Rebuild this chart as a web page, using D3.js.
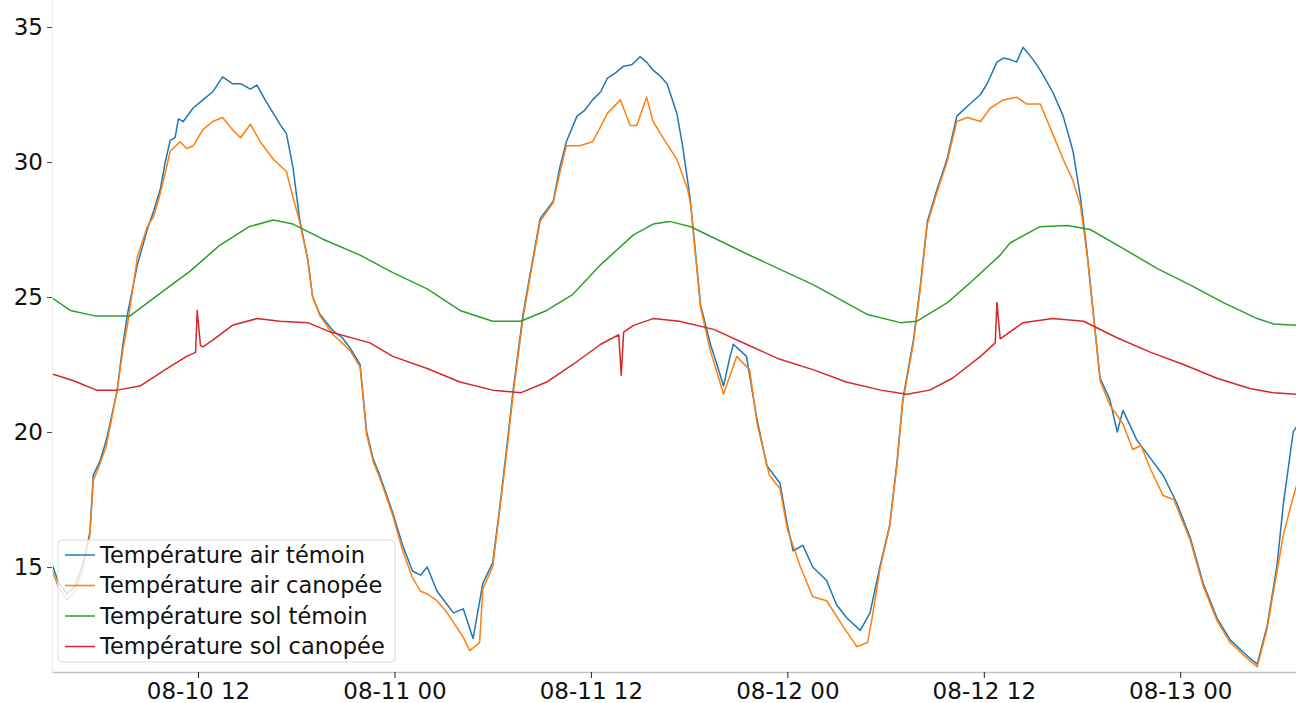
<!DOCTYPE html>
<meta charset="utf-8">
<style>
    body { margin: 0; background: #fff; }
    text { font-family: "DejaVu Sans", sans-serif; fill: #111; }
    .tick text { font-size: 23px; }
    .legend text { font-size: 22.5px; }
    .serie { fill: none; stroke-width: 1.5px; stroke-linejoin: round; }
</style>
<body>
<script src="https://d3js.org/d3.v7.min.js"></script>
<script>
    // hours since 2021-08-10 00:00
    var dayStart = new Date(2021, 7, 10, 0, 0);
    var xFrom = 3.08, xTo = 79.07;

    var airTemoin = [[3.08,15.1],[3.5,14.4],[4.0,14.0],[4.5,14.3],[5.0,15.2],[5.4,16.3],[5.6,18.4],[6.0,18.9],[6.4,19.7],[7.05,21.5],[7.4,23.2],[7.7,24.4],[8.3,26.2],[8.9,27.5],[9.3,28.2],[9.7,29.0],[10.0,30.0],[10.3,30.8],[10.6,30.9],[10.8,31.6],[11.1,31.5],[11.7,32.0],[12.3,32.3],[12.9,32.6],[13.5,33.15],[14.1,32.9],[14.6,32.9],[15.2,32.7],[15.6,32.85],[16.1,32.3],[16.6,31.8],[17.0,31.4],[17.4,31.05],[17.8,29.8],[18.2,27.9],[18.7,26.4],[19.0,25.0],[19.45,24.35],[20.25,23.75],[20.8,23.5],[21.3,23.1],[21.9,22.5],[22.3,20.0],[22.7,19.0],[23.1,18.4],[23.9,17.0],[24.5,15.8],[25.1,14.85],[25.6,14.7],[26.0,15.0],[26.6,14.1],[27.1,13.7],[27.6,13.3],[28.2,13.45],[28.8,12.35],[29.4,14.4],[30.0,15.15],[30.45,17.3],[30.9,19.65],[31.25,21.55],[31.85,24.35],[32.3,25.9],[32.9,27.9],[33.7,28.55],[34.1,29.8],[34.5,30.75],[35.15,31.7],[35.6,31.9],[36.1,32.3],[36.6,32.6],[37.0,33.1],[37.5,33.3],[38.0,33.55],[38.5,33.6],[39.0,33.9],[39.4,33.7],[39.8,33.4],[40.2,33.2],[40.65,32.9],[41.25,31.8],[41.6,30.6],[42.05,28.7],[42.25,27.5],[42.7,24.7],[43.3,23.25],[43.7,22.5],[44.1,21.7],[44.5,22.8],[44.7,23.25],[45.5,22.8],[46.15,20.45],[46.75,18.75],[47.55,18.1],[48.0,16.55],[48.35,15.6],[48.95,15.8],[49.55,15.0],[50.4,14.5],[51.0,13.6],[51.65,13.1],[52.45,12.65],[53.05,13.3],[53.65,15.0],[54.25,16.55],[54.7,18.9],[55.05,21.2],[55.7,23.4],[56.1,25.3],[56.55,27.8],[57.15,29.0],[57.75,30.1],[58.35,31.7],[59.15,32.15],[59.8,32.5],[60.2,32.9],[60.8,33.7],[61.2,33.85],[61.6,33.8],[62.0,33.7],[62.4,34.25],[63.0,33.8],[63.45,33.4],[64.2,32.6],[64.85,31.7],[65.45,30.4],[65.9,28.7],[66.3,26.7],[66.7,24.35],[67.1,22.0],[67.7,21.2],[68.15,20.0],[68.5,20.8],[69.35,19.7],[70.15,19.05],[70.95,18.4],[71.8,17.35],[72.6,16.1],[73.4,14.4],[74.25,13.1],[75.05,12.3],[76.1,11.7],[76.7,11.4],[77.3,12.8],[77.9,15.0],[78.3,17.35],[78.9,20.0],[79.1,20.2]];

    var airCanopee = [[3.08,14.9],[3.5,14.2],[4.0,13.8],[4.5,14.1],[5.0,15.0],[5.4,16.2],[5.6,18.2],[6.0,18.8],[6.4,19.5],[7.05,21.5],[7.4,23.0],[7.7,24.0],[8.3,26.5],[8.9,27.6],[9.3,28.0],[9.7,28.85],[10.0,29.6],[10.3,30.4],[10.9,30.75],[11.3,30.5],[11.7,30.6],[12.3,31.2],[12.9,31.5],[13.5,31.65],[14.1,31.2],[14.6,30.9],[15.2,31.4],[15.8,30.75],[16.6,30.1],[17.4,29.65],[17.8,28.7],[18.2,27.8],[18.7,26.4],[19.0,25.0],[19.45,24.3],[20.25,23.6],[20.8,23.3],[21.3,23.0],[21.9,22.4],[22.3,19.9],[22.7,18.9],[23.1,18.3],[23.9,16.9],[24.5,15.6],[25.1,14.6],[25.6,14.1],[26.0,14.0],[26.6,13.75],[27.1,13.4],[27.6,12.95],[28.2,12.4],[28.6,11.9],[29.2,12.2],[29.4,14.2],[30.0,15.0],[30.45,17.2],[30.9,19.5],[31.25,21.4],[31.85,24.2],[32.3,25.8],[32.9,27.8],[33.7,28.5],[34.1,29.6],[34.5,30.6],[35.3,30.6],[36.1,30.75],[36.5,31.2],[37.0,31.8],[37.8,32.3],[38.4,31.35],[38.8,31.35],[39.4,32.4],[39.8,31.5],[40.4,30.9],[41.25,30.1],[41.9,29.0],[42.1,28.4],[42.25,27.4],[42.7,24.6],[43.3,23.0],[43.7,22.2],[44.1,21.4],[44.9,22.8],[45.7,22.3],[46.15,20.3],[46.9,18.4],[47.55,17.9],[48.0,16.4],[48.8,15.0],[49.55,13.9],[50.4,13.75],[51.4,12.8],[52.25,12.05],[52.9,12.2],[53.2,13.2],[53.65,14.9],[54.25,16.5],[54.7,18.8],[55.05,21.1],[55.7,23.3],[56.1,25.2],[56.55,27.7],[57.15,28.9],[57.75,30.0],[58.35,31.5],[59.0,31.65],[59.8,31.5],[60.4,32.0],[61.2,32.3],[62.0,32.4],[62.6,32.15],[63.45,32.15],[64.2,31.05],[64.85,30.1],[65.45,29.3],[65.9,28.4],[66.3,26.6],[66.7,24.3],[67.1,21.9],[67.7,21.0],[68.5,20.3],[69.1,19.35],[69.6,19.5],[70.2,18.6],[70.95,17.65],[71.6,17.5],[72.6,16.0],[73.4,14.3],[74.25,13.0],[75.05,12.2],[76.1,11.6],[76.7,11.3],[77.3,12.7],[77.9,14.8],[78.3,16.2],[78.9,17.6],[79.1,18.0]];

    var solTemoin = [[3.0,25.0],[4.2,24.5],[5.7,24.3],[7.85,24.3],[9.6,25.1],[11.5,25.95],[13.3,26.9],[15.1,27.6],[16.6,27.85],[17.8,27.7],[19.6,27.15],[21.9,26.55],[23.9,25.9],[26.0,25.3],[28.0,24.5],[30.0,24.1],[31.7,24.1],[33.3,24.5],[34.9,25.1],[36.6,26.2],[38.6,27.3],[39.8,27.7],[40.8,27.8],[42.1,27.6],[45.5,26.6],[49.6,25.45],[52.9,24.35],[54.9,24.05],[55.9,24.1],[57.8,24.8],[59.3,25.6],[61.0,26.55],[61.6,27.0],[63.4,27.6],[65.1,27.65],[66.5,27.5],[68.5,26.8],[70.6,26.05],[72.6,25.45],[74.6,24.8],[76.7,24.2],[77.7,24.0],[79.1,23.95]];

    var solCanopee = [[3.1,22.15],[4.4,21.9],[5.8,21.55],[7.05,21.55],[8.45,21.7],[10.1,22.35],[11.3,22.8],[11.85,22.95],[11.95,24.5],[12.15,23.2],[12.3,23.15],[12.9,23.4],[14.1,23.95],[15.6,24.2],[17.0,24.1],[18.7,24.05],[20.1,23.7],[22.5,23.3],[23.9,22.8],[26.0,22.35],[28.0,21.85],[30.0,21.55],[31.7,21.45],[33.3,21.85],[34.9,22.5],[36.6,23.25],[37.7,23.6],[37.85,22.1],[38.0,23.7],[38.6,23.95],[39.8,24.2],[41.4,24.1],[43.5,23.8],[45.5,23.25],[47.5,22.7],[49.6,22.3],[51.6,21.85],[53.7,21.55],[55.3,21.4],[56.7,21.55],[58.1,22.0],[59.8,22.8],[60.7,23.3],[60.8,24.8],[61.0,23.45],[62.4,24.05],[64.2,24.2],[66.1,24.1],[68.1,23.5],[70.2,22.95],[72.2,22.5],[74.2,22.0],[76.3,21.6],[77.7,21.45],[79.1,21.4]];

    var seriesNames = ["Température air témoin", "Température air canopée", "Température sol témoin", "Température sol canopée"];
    var seriesColors = ["#1f77b4", "#ff7f0e", "#2ca02c", "#d62728"];
    var yTicks = [15, 20, 25, 30, 35];

    function toDate(h) { return new Date(dayStart.getTime() + h * 3600e3); }

    var W = 1296, H = 703;
    var left = 52, bottom = 672;

    var svg = d3.select("body").append("svg").attr("width", W).attr("height", H);

    var x = d3.scaleTime().domain([toDate(xFrom), toDate(xTo)]).range([left, W]);
    var y = d3.scaleLinear().domain([11.11, 36]).range([bottom, 0]);

    svg.append("defs").append("clipPath").attr("id", "clip")
        .append("rect").attr("x", left).attr("y", 0).attr("width", W - left).attr("height", bottom);

    var line = d3.line()
        .x(d => x(toDate(d[0])))
        .y(d => y(d[1]));

    var all = [airTemoin, airCanopee, solTemoin, solCanopee];
    svg.append("g").attr("clip-path", "url(#clip)")
        .selectAll("path").data(all).enter().append("path")
        .attr("class", "serie")
        .attr("d", line)
        .attr("stroke", (d, i) => seriesColors[i]);

    // axes
    var xAxis = svg.append("g").attr("transform", "translate(0," + bottom + ")")
        .call(d3.axisBottom(x).ticks(d3.timeHour.every(12)).tickFormat(d3.timeFormat("%m-%d %H"))
            .tickSize(6).tickPadding(5).tickSizeOuter(0));
    xAxis.select(".domain").attr("stroke", "#c4c4c4").attr("stroke-width", 1.5);
    xAxis.selectAll(".tick line").attr("stroke", "#222");

    var yAxis = svg.append("g").attr("transform", "translate(" + left + ",0)")
        .call(d3.axisLeft(y).tickValues(yTicks).tickSize(5).tickPadding(4).tickSizeOuter(0));
    yAxis.select(".domain").attr("stroke", "#ececec");
    yAxis.selectAll(".tick line").attr("stroke", "#444");

    svg.selectAll(".tick text").attr("fill", "#111");

    // legend
    var lg = svg.append("g").attr("class", "legend").attr("transform", "translate(58,540)");
    lg.append("rect").attr("width", 337).attr("height", 122).attr("rx", 4)
        .attr("fill", "#fff").attr("fill-opacity", 0.8).attr("stroke", "#dcdcdc");
    var item = lg.selectAll(".item").data(seriesNames).enter().append("g")
        .attr("class", "item")
        .attr("transform", (d, i) => "translate(0," + (15 + i * 30.5) + ")");
    item.append("line").attr("x1", 7).attr("x2", 37)
        .attr("stroke", (d, i) => seriesColors[i]).attr("stroke-width", 1.5);
    item.append("text").attr("x", 42).attr("dy", "0.35em").text(d => d);
</script>
</body>
</html>
